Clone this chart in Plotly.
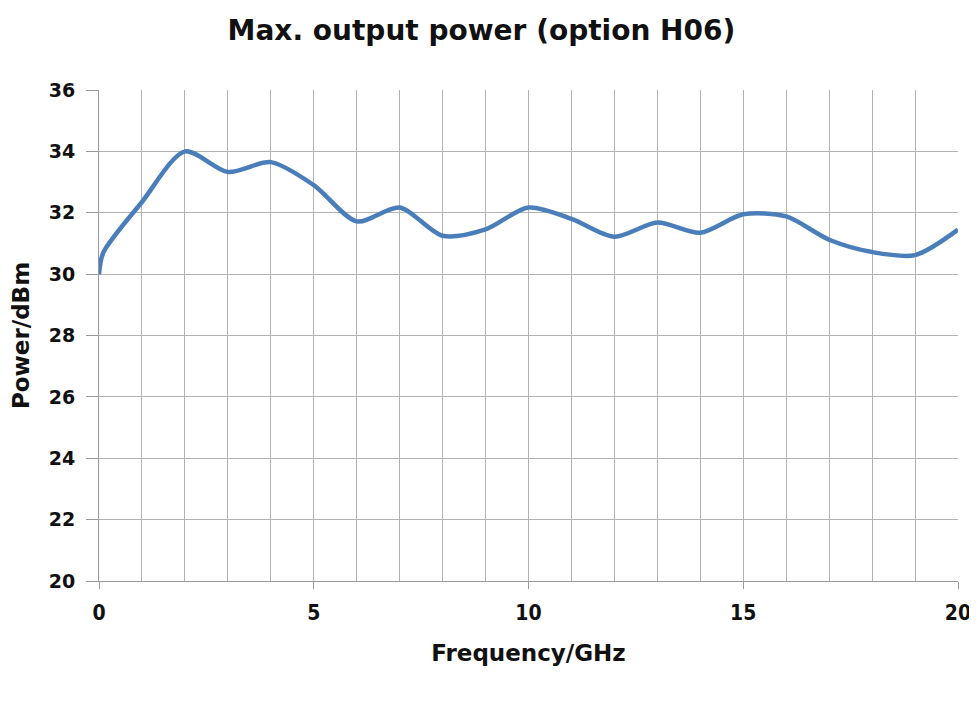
import plotly.graph_objects as go

freq_ghz = [0, 0.1, 1, 2, 3, 4, 5, 6, 7, 8, 9, 10, 11, 12, 13, 14, 15, 16, 17, 18, 19, 20]
power_dbm = [30.0, 30.7, 32.35, 34.0, 33.33, 33.65, 32.9, 31.72, 32.17, 31.25, 31.46, 32.17, 31.8,
             31.22, 31.68, 31.35, 31.95, 31.88, 31.12, 30.72, 30.62, 31.45]

title_text = "Max. output power (option H06)"
x_title = "Frequency/GHz"
y_title = "Power/dBm"

fig = go.Figure()
fig.add_trace(go.Scatter(
    x=freq_ghz, y=power_dbm, mode="lines",
    line=dict(color="#4a7ebb", width=4.5, shape="spline", smoothing=0.8),
    showlegend=False,
))

grid = "#b3b3b3"
# the page body adds an 8px offset, so the figure is 8px smaller and margins shifted
fig.update_layout(
    width=969, height=695,
    paper_bgcolor="white", plot_bgcolor="white",
    margin=dict(l=91, r=19, t=82, b=122, autoexpand=False),
    title=dict(text=title_text, x=0.4886, xanchor="center", y=0.968, yanchor="middle",
               font=dict(family="DejaVu Sans", size=28, color="#111111", weight="bold")),
)
fig.update_xaxes(
    range=[0, 20], tickmode="linear", tick0=0, dtick=5,
    showgrid=True, gridcolor=grid, gridwidth=1,
    minor=dict(dtick=1, showgrid=True, gridcolor=grid, gridwidth=1),
    showline=True, linecolor="#999999", linewidth=1,
    ticks="outside", ticklen=7, tickcolor="#999999",
    ticklabelstandoff=6,
    tickfont=dict(family="DejaVu Sans Condensed", size=21, color="#111111", weight="bold"),
    title=dict(text=x_title, standoff=20,
               font=dict(family="DejaVu Sans", size=23, color="#111111", weight="bold")),
    zeroline=False, automargin=False,
)
fig.update_yaxes(
    range=[20, 36], tickmode="linear", tick0=20, dtick=2,
    showgrid=True, gridcolor=grid, gridwidth=1,
    showline=True, linecolor="#999999", linewidth=1,
    ticks="outside", ticklen=12, tickcolor="#999999",
    ticklabelstandoff=7,
    tickfont=dict(family="DejaVu Sans", size=19, color="#111111", weight="bold"),
    title=dict(text=y_title, standoff=16,
               font=dict(family="DejaVu Sans", size=23, color="#111111", weight="bold")),
    zeroline=False, automargin=False,
)

fig.write_html("out.html")
